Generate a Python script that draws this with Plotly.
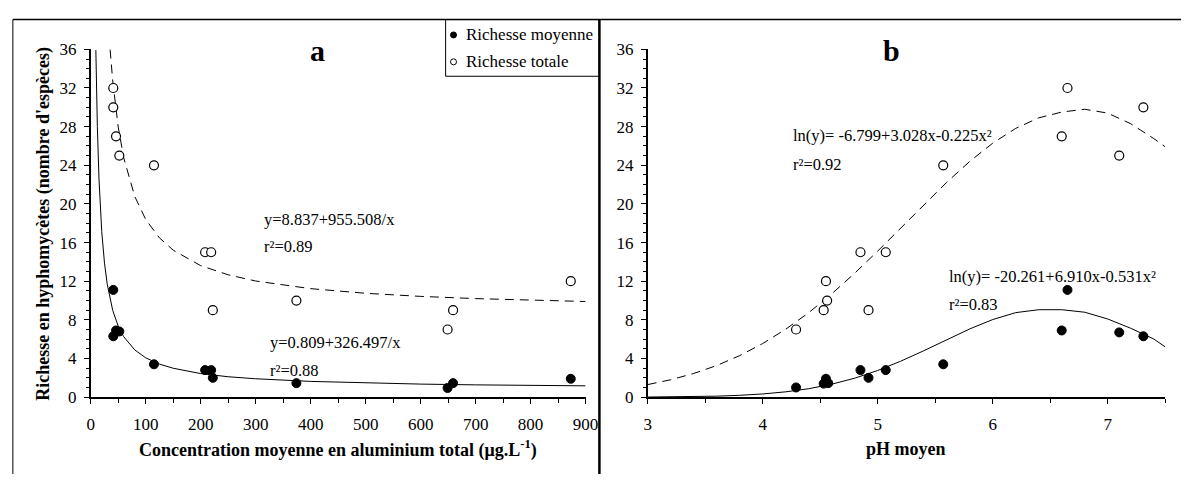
import plotly.graph_objects as go

# ---------------- data ----------------
# Panel a : aluminium concentration (µg/L)
al_conc = [41, 41, 46, 52, 115, 208, 219, 222, 374, 649, 659, 873]
al_total = [32, 30, 27, 25, 24, 15, 15, 9, 10, 7, 9, 12]
al_moy_x = [41, 41, 46, 52, 115, 208, 219, 222, 374, 649, 659, 873]
al_moy = [11.1, 6.3, 6.9, 6.8, 3.4, 2.8, 2.8, 2.0, 1.45, 0.95, 1.45, 1.9]

# fitted curves
fit_a_moy_x = [9.3, 10, 12, 15, 20, 25, 30, 40, 50, 60, 80, 100, 125, 150, 200, 250, 300, 400, 500, 600, 700, 800, 900]
fit_a_moy_y = [35.92, 33.46, 28.01, 22.58, 17.13, 13.87, 11.69, 8.97, 7.34, 6.25, 4.89, 4.07, 3.42, 2.99, 2.44, 2.11, 1.90, 1.63, 1.46, 1.35, 1.27, 1.22, 1.17]
fit_a_tot_x = [35.2, 40, 50, 60, 80, 100, 125, 150, 200, 250, 300, 400, 500, 600, 700, 800, 900]
fit_a_tot_y = [35.98, 32.72, 27.95, 24.76, 20.78, 18.39, 16.48, 15.21, 13.61, 12.66, 12.02, 11.23, 10.75, 10.43, 10.20, 10.03, 9.90]

# Panel b : pH
ph_tot_x = [4.29, 4.53, 4.55, 4.56, 4.85, 4.92, 5.07, 5.57, 6.60, 6.65, 7.10, 7.31]
ph_total = [7, 9, 12, 10, 15, 9, 15, 24, 27, 32, 25, 30]
ph_moy_x = [4.29, 4.53, 4.55, 4.57, 4.85, 4.92, 5.07, 5.57, 6.60, 6.65, 7.10, 7.31]
ph_moy = [1.0, 1.4, 1.9, 1.45, 2.8, 2.0, 2.8, 3.4, 6.9, 11.1, 6.7, 6.3]

fit_b_x = [3.0, 3.2, 3.4, 3.6, 3.8, 4.0, 4.2, 4.4, 4.6, 4.8, 5.0, 5.2, 5.4, 5.6, 5.8, 6.0, 6.2, 6.4, 6.6, 6.8, 7.0, 7.2, 7.4, 7.5]
fit_b_tot_y = [1.30, 1.80, 2.45, 3.27, 4.30, 5.55, 7.03, 8.74, 10.69, 12.83, 15.12, 17.51, 19.91, 22.24, 24.40, 26.29, 27.82, 28.91, 29.51, 29.80, 29.40, 28.30, 26.77, 25.91]
fit_b_moy_y = [0.01, 0.03, 0.05, 0.10, 0.19, 0.33, 0.55, 0.87, 1.34, 1.96, 2.76, 3.72, 4.80, 5.95, 7.06, 8.03, 8.75, 9.05, 9.05, 8.79, 8.09, 7.13, 6.02, 5.20]

x_ticks_a = [0, 100, 200, 300, 400, 500, 600, 700, 800, 900]
x_ticks_b = [3, 4, 5, 6, 7]
y_ticks = [0, 4, 8, 12, 16, 20, 24, 28, 32, 36]

legend_labels = ["Richesse moyenne", "Richesse totale"]

# ---------------- layout helpers ----------------
W, H = 1194, 484
def px(x):
    return x / W
def py(y):
    return 1 - y / H

FONT = "Liberation Serif, Times New Roman, serif"

fig = go.Figure()

filled = dict(color="black", size=9, line=dict(color="black", width=1))
hollow = dict(color="white", size=9, line=dict(color="black", width=1.2))

# panel a
fig.add_trace(go.Scatter(x=fit_a_tot_x, y=fit_a_tot_y, mode="lines",
                         line=dict(color="black", width=1, dash="9px,6px"),
                         xaxis="x", yaxis="y", showlegend=False))
fig.add_trace(go.Scatter(x=fit_a_moy_x, y=fit_a_moy_y, mode="lines",
                         line=dict(color="black", width=1),
                         xaxis="x", yaxis="y", showlegend=False))
fig.add_trace(go.Scatter(x=al_conc, y=al_total, mode="markers", marker=hollow,
                         xaxis="x", yaxis="y", showlegend=False, cliponaxis=False))
fig.add_trace(go.Scatter(x=al_moy_x, y=al_moy, mode="markers", marker=filled,
                         xaxis="x", yaxis="y", showlegend=False, cliponaxis=False))

# panel b
fig.add_trace(go.Scatter(x=fit_b_x, y=fit_b_tot_y, mode="lines",
                         line=dict(color="black", width=1, dash="9px,6px"),
                         xaxis="x2", yaxis="y2", showlegend=False))
fig.add_trace(go.Scatter(x=fit_b_x, y=fit_b_moy_y, mode="lines",
                         line=dict(color="black", width=1),
                         xaxis="x2", yaxis="y2", showlegend=False))
fig.add_trace(go.Scatter(x=ph_tot_x, y=ph_total, mode="markers", marker=hollow,
                         xaxis="x2", yaxis="y2", showlegend=False, cliponaxis=False))
fig.add_trace(go.Scatter(x=ph_moy_x, y=ph_moy, mode="markers", marker=filled,
                         xaxis="x2", yaxis="y2", showlegend=False, cliponaxis=False))

# legend (manual, in its own small axis)
fig.add_trace(go.Scatter(x=[8], y=[16], mode="markers",
                         marker=dict(color="black", size=6, line=dict(color="black", width=1)),
                         xaxis="x3", yaxis="y3", showlegend=False))
fig.add_trace(go.Scatter(x=[8], y=[44], mode="markers",
                         marker=dict(color="white", size=6, line=dict(color="black", width=1)),
                         xaxis="x3", yaxis="y3", showlegend=False))

axis_common = dict(
    showgrid=False, zeroline=False, showline=True, linecolor="black", linewidth=1.5,
    ticks="outside", ticklen=5, tickwidth=1, tickcolor="black",
    tickfont=dict(family=FONT, size=17, color="black"),
)

fig.update_layout(
    width=W, height=H,
    margin=dict(l=0, r=0, t=0, b=0),
    font=dict(family=FONT, size=16, color="black"),
    paper_bgcolor="white", plot_bgcolor="white",
    showlegend=False,
    xaxis=dict(domain=[px(88), px(590)], range=[0, 900], tickvals=x_ticks_a,
               minor=dict(dtick=50, ticks="outside", ticklen=4, tickcolor="black"),
               anchor="y", ticklabelstandoff=6, **axis_common),
    yaxis=dict(domain=[py(404), py(42)], range=[0, 36], tickvals=y_ticks,
               minor=dict(dtick=1, ticks="outside", ticklen=3, tickcolor="black"),
               anchor="x", ticklabelstandoff=4, **axis_common),
    xaxis2=dict(domain=[px(653), px(1178)], range=[3, 7.5], tickvals=x_ticks_b,
                minor=dict(dtick=0.5, ticks="outside", ticklen=4, tickcolor="black"),
                anchor="y2", ticklabelstandoff=6, **axis_common),
    yaxis2=dict(domain=[py(404), py(42)], range=[0, 36], tickvals=y_ticks,
                minor=dict(dtick=1, ticks="outside", ticklen=3, tickcolor="black"),
                anchor="x2", ticklabelstandoff=4, **axis_common),
    xaxis3=dict(domain=[px(448), px(604)], range=[0, 156], visible=False, fixedrange=True, anchor="y3"),
    yaxis3=dict(domain=[py(70), py(11)], range=[59, 0], visible=False, fixedrange=True, anchor="x3"),
)

shapes = [
    dict(type="line", xref="paper", yref="paper", x0=px(9), x1=1, y0=py(11), y1=py(11),
         line=dict(color="black", width=1.5)),
    dict(type="line", xref="paper", yref="paper", x0=px(9), x1=px(9), y0=py(11), y1=0,
         line=dict(color="black", width=1)),
    dict(type="line", xref="paper", yref="paper", x0=px(604), x1=px(604), y0=py(11), y1=0,
         line=dict(color="black", width=2.5)),
    dict(type="rect", xref="paper", yref="paper", x0=px(448), x1=px(604), y0=py(70), y1=py(11),
         line=dict(color="black", width=1)),
]
fig.update_layout(shapes=shapes)

def ann(text, x, y, size=16, bold=False, xanchor="left", yanchor="middle", angle=0, xref="paper", yref="paper"):
    if bold:
        text = "<b>" + text + "</b>"
    return dict(text=text, x=x, y=y, xref=xref, yref=yref, showarrow=False,
                xanchor=xanchor, yanchor=yanchor, textangle=angle,
                font=dict(family=FONT, size=size, color="black"))

annotations = [
    ann("a", px(318), py(43), size=30, bold=True, xanchor="center"),
    ann("b", px(900), py(43), size=30, bold=True, xanchor="center"),
    ann("y=8.837+955.508/x", px(262), py(219), size=16.5),
    ann("r²=0.89", px(262), py(247), size=16.5),
    ann("y=0.809+326.497/x", px(268), py(347), size=16.5),
    ann("r²=0.88", px(268), py(376), size=16.5),
    ann("ln(y)= -6.799+3.028x-0.225x²", px(798), py(132), size=16.5),
    ann("r²=0.92", px(798), py(162), size=16.5),
    ann("ln(y)= -20.261+6.910x-0.531x²", px(957), py(278), size=16.5),
    ann("r²=0.83", px(957), py(308), size=16.5),
    ann("Richesse en hyphomycètes (nombre d'espèces)", px(40), py(223), size=18, bold=True,
        xanchor="center", angle=-90),
    ann("Concentration moyenne en aluminium total (μg.L<sup>-1</sup>)", px(339), py(458), size=18,
        bold=True, xanchor="center"),
    ann("pH moyen", px(915), py(458), size=18, bold=True, xanchor="center"),
    ann(legend_labels[0], 19, 16, size=17, xref="x3", yref="y3"),
    ann(legend_labels[1], 19, 44, size=17, xref="x3", yref="y3"),
]
fig.update_layout(annotations=annotations)

fig.write_html("out.html", config={"displayModeBar": False},
               post_script="document.body.style.margin='0';document.body.style.overflow='hidden';")
